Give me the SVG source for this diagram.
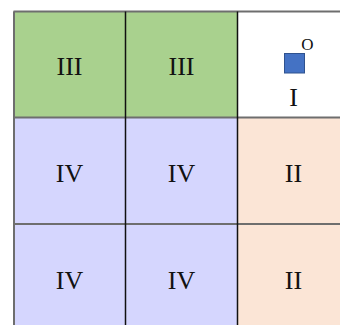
<svg xmlns="http://www.w3.org/2000/svg" width="340" height="325" viewBox="0 0 340 325">
<style>
.t{font-family:"Liberation Serif","Times New Roman",serif;font-size:26px;fill:#111;text-anchor:middle}
.g{fill:#A9D18E}
.b{fill:#D5D6FE}
.p{fill:#FBE5D6}
.w{fill:#FFFFFF}
.hl{stroke:#6E6E6E;stroke-width:2;fill:none}
.vl{stroke:#111;stroke-width:1.5;fill:none}
</style>
<rect width="340" height="325" fill="#fff"/>
<g id="c11"><rect class="g" x="13.5" y="11.5" width="112" height="106"/><text class="t" x="69.5" y="75">III</text></g>
<g id="c12"><rect class="g" x="125.5" y="11.5" width="112" height="106"/><text class="t" x="181.5" y="75">III</text></g>
<g id="c13"><rect class="w" x="237.5" y="11.5" width="112" height="106"/><text class="t" x="293.5" y="106">I</text>
<rect x="284.5" y="53.5" width="20" height="19.5" fill="#4472C4" stroke="#2F528F" stroke-width="1"/>
<text x="307.5" y="50" style="font-family:'Liberation Serif','Times New Roman',serif;font-size:17px;fill:#111;text-anchor:middle">O</text></g>
<g id="c21"><rect class="b" x="13.5" y="117.5" width="112" height="106.5"/><text class="t" x="69.5" y="182">IV</text></g>
<g id="c22"><rect class="b" x="125.5" y="117.5" width="112" height="106.5"/><text class="t" x="181.5" y="182">IV</text></g>
<g id="c23"><rect class="p" x="237.5" y="117.5" width="112" height="106.5"/><text class="t" x="293.5" y="182">II</text></g>
<g id="c31"><rect class="b" x="13.5" y="224" width="112" height="106"/><text class="t" x="69.5" y="288.5">IV</text></g>
<g id="c32"><rect class="b" x="125.5" y="224" width="112" height="106"/><text class="t" x="181.5" y="288.5">IV</text></g>
<g id="c33"><rect class="p" x="237.5" y="224" width="112" height="106"/><text class="t" x="293.5" y="288.5">II</text></g>
<g id="lines">
<path class="hl" d="M13.5 11.5H340M13.5 117.5H340M13.5 224H340M14 11.5V325"/>
<path class="vl" d="M125.5 11.5V325M237.5 11.5V325"/>
</g>
</svg>
